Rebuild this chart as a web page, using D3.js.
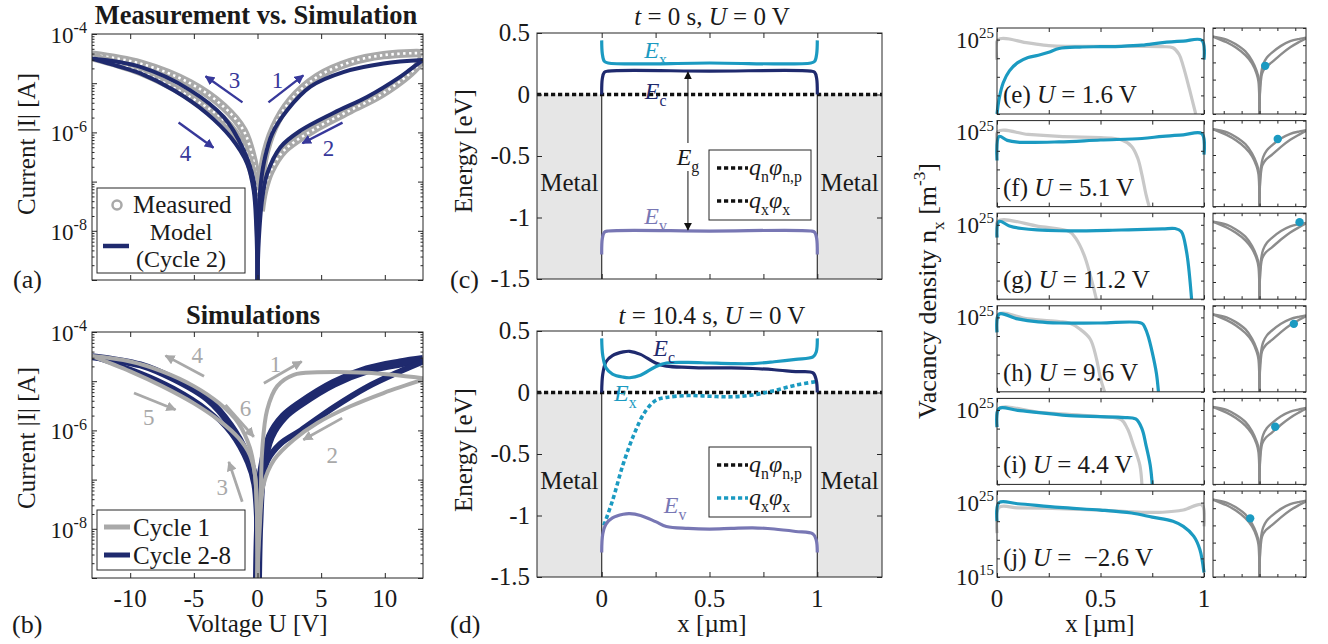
<!DOCTYPE html>
<html>
<head>
<meta charset="utf-8">
<script src="https://cdn.jsdelivr.net/npm/d3@7"></script>
<style>
  body { margin: 0; background: #fff; }
  text { font-family: "Liberation Serif", "Times New Roman", serif; }
</style>
</head>
<body>
<div id="root"></div>
<script>
// ---------- data ----------
// I-V curves: [voltage U in V, log10 |I| in A]
var voltTicks = [-10, -5, 0, 5, 10];
var currentDecades = [-9, -8, -7, -6, -5, -4];
var currentLabelDecades = [-8, -6, -4];

var measUpRight  = [[0.2,-7.5],[0.5,-6.57],[1.3,-5.9],[2.6,-5.35],[4.7,-4.87],[7.3,-4.57],[9.9,-4.43],[12.8,-4.39],[13,-4.4]];
var measLowRight = [[13,-4.45],[12.5,-4.67],[9.9,-5.2],[7.3,-5.55],[4.7,-5.9],[2.07,-6.37],[1.0,-6.8],[0.5,-7.2],[0.25,-7.6]];
var measUpLeft   = [[0.1,-7.3],[-0.3,-6.6],[-1.1,-5.96],[-2.65,-5.48],[-5.3,-5.0],[-9.2,-4.6],[-13,-4.42]];
var measLowLeft  = [[-13,-4.47],[-9.2,-4.77],[-5.3,-5.28],[-2.65,-5.75],[-1.1,-6.3],[-0.3,-6.9],[0.15,-7.5]];

var modelUpRight  = [[0,-9],[0.1,-7.6],[0.3,-6.95],[0.6,-6.5],[1.15,-6.03],[2.33,-5.55],[4.16,-5.07],[6.8,-4.77],[9.9,-4.6],[13,-4.53]];
var modelLowRight = [[13,-4.53],[12,-4.72],[11.2,-4.87],[8.6,-5.28],[6,-5.6],[3.4,-5.96],[1.8,-6.3],[0.76,-6.84],[0.35,-7.39],[0.1,-8.2],[0,-9]];
var modelUpLeft   = [[0,-9],[-0.1,-7.6],[-0.3,-6.98],[-1.07,-6.37],[-2.65,-5.69],[-5.3,-5.14],[-9.2,-4.67],[-13,-4.5]];
var modelLowLeft  = [[-13,-4.5],[-11,-4.65],[-9.2,-4.8],[-6.6,-5.14],[-3.95,-5.62],[-2.1,-6.1],[-0.8,-6.64],[-0.3,-7.18],[-0.1,-7.9],[0,-9]];

var cyc1Sweep1  = [[0,-9],[0.1,-8.0],[0.24,-7.42],[0.37,-6.4],[0.76,-5.58],[1.55,-5.1],[2.85,-4.87],[4.7,-4.82],[8.6,-4.83],[13,-4.94]];
var cyc1Sweep2  = [[13,-4.97],[9.9,-5.24],[7.3,-5.51],[4.7,-5.85],[2.85,-6.19],[1.3,-6.6],[0.5,-7.08],[0.15,-8.1],[0,-9]];
var cyc1Sweep34 = [[0,-9],[-0.05,-7.6],[-0.2,-6.9],[-0.6,-6.35],[-1.5,-5.85],[-3,-5.45],[-5,-5.1],[-7.5,-4.8],[-10,-4.6],[-13,-4.49]];
var cyc1Sweep56 = [[-13,-4.49],[-10,-4.8],[-7.5,-5.1],[-5,-5.45],[-3,-5.8],[-1.5,-6.15],[-0.6,-6.5],[-0.2,-6.9],[-0.05,-7.6],[0,-9]];

var cyc2UpRight  = [[0,-9],[0.1,-7.9],[0.37,-6.8],[1.02,-6.12],[2.07,-5.72],[3.4,-5.45],[6,-5.04],[8.6,-4.77],[11.2,-4.63],[13,-4.56]];
var cyc2LowRight = [[13,-4.6],[11.2,-4.8],[8.6,-5.12],[6,-5.53],[3.4,-6.0],[1.8,-6.27],[0.76,-6.62],[0.37,-7.1],[0.1,-7.8],[0,-9]];
var cyc2UpLeft   = [[0,-9],[-0.16,-7.0],[-0.8,-6.5],[-2.1,-5.9],[-3.95,-5.36],[-6.6,-4.95],[-9.2,-4.67],[-13,-4.5]];
var cyc2LowLeft  = [[-13,-4.5],[-9.2,-4.83],[-6.6,-5.14],[-3.95,-5.58],[-2.1,-6.06],[-0.8,-6.66],[-0.3,-7.1],[0,-9]];

// sweep arrows: from [U, log I], to [U, log I], label position
var arrowsA = [
  { from: [0.86,-5.39], to: [3.6,-4.84], label: '1', at: [1.57,-4.94] },
  { from: [6.68,-5.8], to: [3.53,-6.22], label: '2', at: [5.58,-6.31] },
  { from: [-1.18,-5.39], to: [-4.08,-4.86], label: '3', at: [-1.8,-4.94] },
  { from: [-6.2,-5.8], to: [-3.46,-6.31], label: '4', at: [-5.65,-6.41] }
];
var arrowsB = [
  { from: [0.5,-5.04], to: [3.47,-4.6], label: '1', at: [1.41,-4.66] },
  { from: [6.65,-5.75], to: [3.6,-6.19], label: '2', at: [5.87,-6.5] },
  { from: [-1.2,-7.45], to: [-2.25,-6.64], label: '3', at: [-2.77,-7.15] },
  { from: [-4.2,-4.9], to: [-7.23,-4.48], label: '4', at: [-4.74,-4.46] },
  { from: [-9.7,-5.24], to: [-6.44,-5.58], label: '5', at: [-8.54,-5.72] },
  { from: [-2.51,-5.48], to: [-0.29,-6.13], label: '6', at: [-0.94,-5.55] }
];

// band diagrams: [x in um, energy in eV]
var posTicks = [0, 0.25, 0.5, 0.75, 1];
var posLabels = [0, 0.5, 1];
var energyTicks = [0.5, 0, -0.5, -1, -1.5];
var metalRegions = [[-0.3, 0], [1, 1.3]];
var zeroLevel = [[-0.3, 0], [1.3, 0]];

var exC = [[0,0.44],[0.003,0.33],[0.012,0.27],[0.03,0.256],[0.5,0.256],[0.97,0.256],[0.988,0.27],[0.997,0.33],[1,0.44]];
var ecC = [[0,0],[0.003,0.13],[0.012,0.18],[0.03,0.19],[0.5,0.19],[0.97,0.19],[0.988,0.18],[0.997,0.13],[1,0]];
var evC = [[0,-1.3],[0.003,-1.17],[0.012,-1.12],[0.03,-1.11],[0.5,-1.11],[0.97,-1.11],[0.988,-1.12],[0.997,-1.17],[1,-1.3]];
var gapArrow = { x: 0.4, top: 0.19, bottom: -1.11 };

var xD = [0,0.005,0.02,0.05,0.1,0.13,0.18,0.25,0.3,0.4,0.5,0.6,0.7,0.8,0.9,0.98,0.995,1];
var ecDVals = [0,0.15,0.25,0.3,0.33,0.335,0.31,0.24,0.215,0.205,0.2,0.2,0.195,0.185,0.17,0.16,0.1,0];
var exDVals = [0.44,0.3,0.2,0.15,0.125,0.12,0.14,0.21,0.24,0.245,0.24,0.235,0.235,0.25,0.27,0.29,0.33,0.44];
var evDVals = [-1.3,-1.15,-1.07,-1.02,-0.99,-0.985,-1.0,-1.05,-1.09,-1.105,-1.11,-1.105,-1.1,-1.11,-1.13,-1.15,-1.2,-1.3];
var phiXD = [[0.01,-1.08],[0.05,-0.88],[0.1,-0.58],[0.15,-0.34],[0.2,-0.16],[0.25,-0.065],[0.3,-0.04],[0.4,-0.025],[0.5,-0.03],[0.6,-0.035],[0.7,-0.02],[0.8,0.015],[0.9,0.06],[1,0.09]];

// vacancy density profiles: [x in um, log10 n_x in m^-3]
var vacLabels = ['(e)', '(f)', '(g)', '(h)', '(i)', '(j)'];
var vacVoltages = ['1.6', '5.1', '11.2', '9.6', '4.4', '\u00a0\u22122.6'];
var vacGray = [
  [[0,22.3],[0.005,25.0],[0.15,24.55],[0.25,24.2],[0.35,24.1],[0.5,24.1],[0.7,24.1],[0.8,24.05],[0.85,23.9],[0.88,23.0],[0.9,21.4],[0.93,18.3],[0.96,15]],
  [[0,22.0],[0.005,25.1],[0.15,24.7],[0.3,24.43],[0.55,24.2],[0.6,23.97],[0.65,23.1],[0.68,21.5],[0.7,19.3],[0.72,16.6],[0.735,15]],
  [[0,23.3],[0.005,25.5],[0.2,24.8],[0.35,24.1],[0.38,23.2],[0.42,21.0],[0.45,18.3],[0.48,15]],
  [[0,23.0],[0.01,25.45],[0.15,24.8],[0.3,24.45],[0.35,24.25],[0.4,23.45],[0.45,22.1],[0.48,19.5],[0.5,16.8],[0.52,15]],
  [[0,22.7],[0.01,25.2],[0.2,24.7],[0.5,24.1],[0.6,23.7],[0.63,22.5],[0.66,20.2],[0.69,17.6],[0.7,15]],
  [[0,20.9],[0.01,24.36],[0.1,24.3],[0.3,24.2],[0.5,24.0],[0.7,23.7],[0.8,23.7],[0.9,24.0],[0.99,24.7],[1,21.8]]
];
var vacCyan = [
  [[0,15],[0.01,17],[0.03,19.2],[0.06,20.8],[0.1,21.9],[0.15,22.6],[0.2,22.9],[0.25,23.3],[0.3,23.8],[0.4,24.0],[0.5,24.05],[0.6,24.1],[0.7,24.25],[0.8,24.6],[0.9,24.8],[0.99,24.9],[1,22.3]],
  [[0,21.2],[0.01,24.43],[0.05,23.9],[0.1,23.67],[0.3,23.7],[0.5,23.95],[0.7,24.15],[0.8,24.45],[0.9,24.65],[0.99,24.8],[1,22.0]],
  [[0,23.3],[0.01,25.45],[0.06,24.85],[0.12,24.5],[0.3,24.2],[0.6,24.3],[0.8,24.45],[0.86,24.5],[0.89,24.1],[0.915,21.5],[0.94,15]],
  [[0,23.0],[0.01,25.45],[0.1,24.8],[0.2,24.4],[0.3,24.25],[0.5,24.25],[0.7,24.2],[0.715,23.6],[0.73,22.5],[0.75,20.3],[0.77,17.5],[0.78,15]],
  [[0,22.7],[0.01,25.2],[0.1,24.95],[0.35,24.25],[0.6,24.0],[0.67,23.8],[0.7,22.5],[0.72,20.25],[0.74,17.6],[0.75,15]],
  [[0,22.5],[0.01,25.0],[0.1,24.85],[0.3,24.35],[0.5,24.0],[0.65,23.6],[0.75,23.05],[0.85,22.5],[0.9,21.8],[0.95,20.5],[0.98,18.7],[1,15.6]]
];
var vacTicks = [15, 17.5, 20, 22.5, 25];
// operating point in inset: [U, log10 |I|]
var insetDots = [[1.6,-6.2],[5.1,-5.07],[11.2,-4.52],[9.6,-5.05],[4.4,-5.65],[-2.6,-5.59]];

// ---------- styles ----------
var C_NAVY = '#1f2a6e', C_CYAN = '#1b9ac1', C_LAV = '#7877b4', C_GRAY = '#a9a9a9',
    C_ARROW = '#37389a', C_AX = '#262626', C_TXT = '#1a1a1a';
var FS_TICK = 25, FS_LAB = 25;

var svg = d3.select('#root').append('svg').attr('width', 1328).attr('height', 644);
var defs = svg.append('defs');

function marker(id, color, size, units) {
  defs.append('marker').attr('id', id)
    .attr('viewBox', '0 0 10 10').attr('refX', 9).attr('refY', 5)
    .attr('markerWidth', size).attr('markerHeight', size)
    .attr('markerUnits', units || 'strokeWidth')
    .attr('orient', 'auto-start-reverse')
    .append('path').attr('d', 'M0,0L10,5L0,10z').attr('fill', color);
}
marker('arrNavy', C_ARROW, 4);
marker('arrGray', C_GRAY, 3.6);
marker('arrBlack', '#111', 8, 'userSpaceOnUse');

function rich(g, x, y, parts, size, opts) {
  opts = opts || {};
  var small = opts.small || 0.66;
  var t = g.append('text').attr('x', x).attr('y', y).attr('font-size', size)
    .attr('text-anchor', opts.anchor || 'start').attr('fill', opts.color || C_TXT);
  if (opts.rotate) t.attr('transform', 'rotate(-90,' + x + ',' + y + ')');
  if (opts.bold) t.attr('font-weight', 'bold');
  var shift = 0;
  parts.forEach(function (p) {
    if (typeof p === 'string') p = { t: p };
    var target = p.sub ? size * 0.3 : p.sup ? -size * 0.42 : 0;
    var s = t.append('tspan').text(p.t).attr('dy', target - shift);
    shift = target;
    if (p.sub || p.sup) s.attr('font-size', size * small);
    if (p.i) s.attr('font-style', 'italic');
  });
  return t;
}

function plain(g, x, y, str, size, anchor, color) {
  return g.append('text').attr('x', x).attr('y', y).attr('font-size', size)
    .attr('text-anchor', anchor || 'start').attr('fill', color || C_TXT).text(str);
}

function clipRect(id, x, y, w, h) {
  defs.append('clipPath').attr('id', id).append('rect')
    .attr('x', x).attr('y', y).attr('width', w).attr('height', h);
  return 'url(#' + id + ')';
}

function frame(g, x, y, w, h) {
  g.append('rect').attr('x', x).attr('y', y).attr('width', w).attr('height', h)
    .attr('fill', 'none').attr('stroke', C_AX).attr('stroke-width', 1);
}

function ticks(g, scale, vals, orient, pos, len) {
  var ax = orient === 'bottom' ? d3.axisBottom(scale) : orient === 'top' ? d3.axisTop(scale)
         : orient === 'left' ? d3.axisLeft(scale) : d3.axisRight(scale);
  ax.tickValues(vals).tickSizeInner(-len).tickSizeOuter(0).tickFormat('');
  var a = g.append('g')
    .attr('transform', (orient === 'bottom' || orient === 'top') ? 'translate(0,' + pos + ')' : 'translate(' + pos + ',0)')
    .call(ax);
  a.select('.domain').remove();
  a.selectAll('line').attr('stroke', C_AX).attr('stroke-width', 1);
}

function curve(g, pts, xs, ys, color, width, dash) {
  var line = d3.line().x(function (d) { return xs(d[0]); }).y(function (d) { return ys(d[1]); })
    .curve(d3.curveCatmullRom.alpha(0.5));
  var p = g.append('path').datum(pts).attr('d', line).attr('fill', 'none')
    .attr('stroke', color).attr('stroke-width', width).attr('stroke-linejoin', 'round');
  if (dash) p.attr('stroke-dasharray', dash);
  return p;
}

function minorLog(decades) {
  var v = [];
  decades.slice(0, -1).forEach(function (k) {
    for (var m = 2; m < 10; m++) v.push(m * Math.pow(10, k));
  });
  return v;
}

// ---------- I-V panels (a), (b) ----------
var ivLeft = 92, ivRight = 423;
var xU = d3.scaleLinear().domain([-13, 13]).range([ivLeft, ivRight]);

function ivPanel(top, bottom, id) {
  var g = svg.append('g');
  var yI = d3.scaleLog().domain([1e-9, 1e-4]).range([bottom, top]);
  var yL = function (v) { return yI(Math.pow(10, v)); };
  var plot = g.append('g').attr('clip-path', clipRect(id, ivLeft, top, ivRight - ivLeft, bottom - top));
  var majors = currentDecades.map(function (k) { return Math.pow(10, k); });
  return { g: g, plot: plot, yI: yI, yL: yL, top: top, bottom: bottom, majors: majors };
}

function ivAxes(p, withXLabels, labelY) {
  frame(p.g, ivLeft, p.top, ivRight - ivLeft, p.bottom - p.top);
  ticks(p.g, xU, voltTicks, 'bottom', p.bottom, 5);
  ticks(p.g, xU, voltTicks, 'top', p.top, 5);
  ticks(p.g, p.yI, p.majors, 'left', ivLeft, 5);
  ticks(p.g, p.yI, p.majors, 'right', ivRight, 5);
  ticks(p.g, p.yI, minorLog(currentDecades), 'left', ivLeft, 2.5);
  ticks(p.g, p.yI, minorLog(currentDecades), 'right', ivRight, 2.5);
  currentLabelDecades.forEach(function (k) {
    rich(p.g, 87, p.yL(k) + 9, ['10', { t: '-' + Math.abs(k), sup: true }], 23, { anchor: 'end', small: 0.7 });
  });
  if (withXLabels) {
    voltTicks.forEach(function (v) { plain(p.g, xU(v), 607, v, FS_TICK, 'middle'); });
  }
  rich(p.g, 35, labelY, ['Current |I| [A]'], FS_LAB, { anchor: 'middle', rotate: true });
}

function drawArrows(p, list, color, mk, width) {
  list.forEach(function (a) {
    p.g.append('line')
      .attr('x1', xU(a.from[0])).attr('y1', p.yL(a.from[1]))
      .attr('x2', xU(a.to[0])).attr('y2', p.yL(a.to[1]))
      .attr('stroke', color).attr('stroke-width', width).attr('marker-end', 'url(#' + mk + ')');
    plain(p.g, xU(a.at[0]), p.yL(a.at[1]) + 8, a.label, 23, 'middle', color);
  });
}

// (a)
var pa = ivPanel(34, 280, 'clipA');
[measUpRight, measLowRight, measUpLeft, measLowLeft].forEach(function (b) {
  curve(pa.plot, b, xU, pa.yL, C_GRAY, 8.5);
  curve(pa.plot, b, xU, pa.yL, '#ffffff', 2.6, '2.4,3.4');
});
[modelUpRight, modelLowRight, modelUpLeft, modelLowLeft].forEach(function (b) {
  curve(pa.plot, b, xU, pa.yL, C_NAVY, 4);
});
drawArrows(pa, arrowsA, C_ARROW, 'arrNavy', 2.4);
ivAxes(pa, false, 144);
plain(pa.g, 256, 24, 'Measurement vs. Simulation', 26.5, 'middle').attr('font-weight', 'bold');
plain(pa.g, 13, 288, '(a)', 26);
// legend (a)
var la = pa.g.append('g');
la.append('rect').attr('x', 97).attr('y', 188).attr('width', 148).attr('height', 85)
  .attr('fill', '#fff').attr('stroke', C_AX);
la.append('circle').attr('cx', 117).attr('cy', 205).attr('r', 4.5)
  .attr('fill', 'none').attr('stroke', C_GRAY).attr('stroke-width', 2.5);
plain(la, 133, 213, 'Measured', 25);
la.append('line').attr('x1', 103).attr('x2', 129).attr('y1', 246).attr('y2', 246)
  .attr('stroke', C_NAVY).attr('stroke-width', 4.5);
plain(la, 181, 240, 'Model', 24, 'middle');
plain(la, 181, 267, '(Cycle 2)', 24, 'middle');

// (b)
var pb = ivPanel(332, 578, 'clipB');
[[cyc2UpRight, 9], [cyc2LowRight, 6], [cyc2UpLeft, 7], [cyc2LowLeft, 4.5]].forEach(function (b) {
  curve(pb.plot, b[0], xU, pb.yL, C_NAVY, b[1]);
});
[cyc1Sweep1, cyc1Sweep2, cyc1Sweep34, cyc1Sweep56].forEach(function (b) {
  curve(pb.plot, b, xU, pb.yL, C_GRAY, 4);
});
drawArrows(pb, arrowsB, C_GRAY, 'arrGray', 2.8);
ivAxes(pb, true, 438);
plain(pb.g, 253, 324, 'Simulations', 26.5, 'middle').attr('font-weight', 'bold');
plain(pb.g, 257, 632, 'Voltage U [V]', FS_LAB, 'middle');
plain(pb.g, 12, 633, '(b)', 26);
var lb = pb.g.append('g');
lb.append('rect').attr('x', 97).attr('y', 510).attr('width', 148).attr('height', 60)
  .attr('fill', '#fff').attr('stroke', C_AX);
lb.append('line').attr('x1', 104).attr('x2', 130).attr('y1', 527).attr('y2', 527).attr('stroke', C_GRAY).attr('stroke-width', 5);
plain(lb, 133, 536, 'Cycle 1', 25);
lb.append('line').attr('x1', 104).attr('x2', 130).attr('y1', 555).attr('y2', 555).attr('stroke', C_NAVY).attr('stroke-width', 5);
plain(lb, 133, 564, 'Cycle 2-8', 25);

// ---------- band diagrams (c), (d) ----------
var bdLeft = 537, bdRight = 882;
var xP = d3.scaleLinear().domain([-0.3, 1.3]).range([bdLeft, bdRight]);
var DASH = '4.2,2.8';

function bandPanel(top, bottom) {
  var g = svg.append('g');
  var yE = d3.scaleLinear().domain([-1.5, 0.5]).range([bottom, top]);
  metalRegions.forEach(function (r) {
    g.append('rect').attr('x', xP(r[0])).attr('y', yE(0))
      .attr('width', xP(r[1]) - xP(r[0])).attr('height', yE(-1.5) - yE(0)).attr('fill', '#e6e6e6');
  });
  [0, 1].forEach(function (x) {
    g.append('line').attr('x1', xP(x)).attr('x2', xP(x)).attr('y1', yE(0)).attr('y2', yE(-1.5))
      .attr('stroke', '#333').attr('stroke-width', 1.2);
  });
  return { g: g, yE: yE, top: top, bottom: bottom };
}

function bandAxes(p, withXLabels, labelY) {
  frame(p.g, bdLeft, p.top, bdRight - bdLeft, p.bottom - p.top);
  ticks(p.g, xP, posTicks, 'bottom', p.bottom, 5);
  ticks(p.g, xP, posTicks, 'top', p.top, 5);
  ticks(p.g, p.yE, energyTicks, 'left', bdLeft, 5);
  ticks(p.g, p.yE, energyTicks, 'right', bdRight, 5);
  energyTicks.forEach(function (v) { plain(p.g, 530, p.yE(v) + 8, v, FS_TICK, 'end'); });
  if (withXLabels) {
    posLabels.forEach(function (v) { plain(p.g, xP(v), 607, v, FS_TICK, 'middle'); });
  }
  rich(p.g, 472, labelY, ['Energy [eV]'], FS_LAB, { anchor: 'middle', rotate: true });
  plain(p.g, xP(-0.15), p.yE(-0.5) + 35, 'Metal', 25, 'middle');
  plain(p.g, xP(1.15), p.yE(-0.5) + 35, 'Metal', 25, 'middle');
}

function bandLegend(g, y0, secondColor) {
  g.append('rect').attr('x', 709).attr('y', y0).attr('width', 102).attr('height', 70)
    .attr('fill', '#fff').attr('stroke', C_AX);
  g.append('line').attr('x1', 717).attr('x2', 748).attr('y1', y0 + 18).attr('y2', y0 + 18)
    .attr('stroke', '#111').attr('stroke-width', 3.6).attr('stroke-dasharray', DASH);
  rich(g, 749, y0 + 25, [{ t: 'q', i: 1 }, { t: 'n', sub: 1 }, { t: '\u03c6', i: 1 }, { t: 'n,p', sub: 1 }], 24);
  g.append('line').attr('x1', 717).attr('x2', 748).attr('y1', y0 + 51).attr('y2', y0 + 51)
    .attr('stroke', secondColor).attr('stroke-width', 3.6).attr('stroke-dasharray', DASH);
  rich(g, 749, y0 + 58, [{ t: 'q', i: 1 }, { t: 'x', sub: 1 }, { t: '\u03c6', i: 1 }, { t: 'x', sub: 1 }], 24);
}

function eLabel(g, x, y, sub, color) {
  rich(g, x, y, [{ t: 'E', i: 1 }, { t: sub, sub: 1 }], 24, { anchor: 'middle', color: color });
}

// (c)
var pc = bandPanel(33, 279);
curve(pc.g, zeroLevel, xP, pc.yE, '#111', 3.6, DASH);
curve(pc.g, exC, xP, pc.yE, C_CYAN, 3.2);
curve(pc.g, ecC, xP, pc.yE, C_NAVY, 3.2);
curve(pc.g, evC, xP, pc.yE, C_LAV, 3.2);
pc.g.append('line').attr('x1', xP(gapArrow.x)).attr('x2', xP(gapArrow.x))
  .attr('y1', pc.yE(gapArrow.top) + 1).attr('y2', pc.yE(gapArrow.bottom) - 1)
  .attr('stroke', '#111').attr('stroke-width', 1)
  .attr('marker-start', 'url(#arrBlack)').attr('marker-end', 'url(#arrBlack)');
pc.g.append('rect').attr('x', xP(gapArrow.x) - 14).attr('y', 143).attr('width', 30).attr('height', 28).attr('fill', '#fff');
eLabel(pc.g, xP(gapArrow.x), 165, 'g', C_TXT);
eLabel(pc.g, xP(0.25), 58, 'x', C_CYAN);
eLabel(pc.g, xP(0.25), 99, 'c', C_NAVY);
eLabel(pc.g, xP(0.25), 224, 'v', C_LAV);
bandLegend(pc.g, 150, '#111');
bandAxes(pc, false, 151);
rich(pc.g, 712, 25, [{ t: 't', i: 1 }, ' = 0 s, ', { t: 'U', i: 1 }, ' = 0 V'], 25, { anchor: 'middle' });
plain(pc.g, 450, 288, '(c)', 26);

// (d)
var pd = bandPanel(331, 577);
var zip = function (vals) { return xD.map(function (x, i) { return [x, vals[i]]; }); };
curve(pd.g, zeroLevel, xP, pd.yE, '#111', 3.6, DASH);
curve(pd.g, phiXD, xP, pd.yE, C_CYAN, 3.6, DASH);
curve(pd.g, zip(ecDVals), xP, pd.yE, C_NAVY, 3.2);
curve(pd.g, zip(exDVals), xP, pd.yE, C_CYAN, 3.2);
curve(pd.g, zip(evDVals), xP, pd.yE, C_LAV, 3.2);
eLabel(pd.g, xP(0.29), 356, 'c', C_NAVY);
eLabel(pd.g, xP(0.11), 401, 'x', C_CYAN);
eLabel(pd.g, xP(0.34), 513, 'v', C_LAV);
bandLegend(pd.g, 447, C_CYAN);
bandAxes(pd, true, 450);
rich(pd.g, 712, 324, [{ t: 't', i: 1 }, ' = 10.4 s, ', { t: 'U', i: 1 }, ' = 0 V'], 25, { anchor: 'middle' });
plain(pd.g, 712, 632, 'x [\u00b5m]', FS_LAB, 'middle');
plain(pd.g, 450, 633, '(d)', 26);

// ---------- vacancy density panels (e)-(j) with I-V insets ----------
var vLeft = 997, vRight = 1204, inLeft = 1213, inRight = 1306, rowH = 86, rowStep = 92.6;
var xV = d3.scaleLinear().domain([0, 1]).range([vLeft, vRight]);
var xIn = d3.scaleLinear().domain([-13, 13]).range([inLeft, inRight]);
var gv = svg.append('g');

vacGray.forEach(function (gray, i) {
  var top = 28 + i * rowStep, bottom = top + rowH;
  var yN = d3.scaleLog().domain([1e15, Math.pow(10, 26.56)]).range([bottom, top]);
  var yNL = function (v) { return yN(Math.pow(10, v)); };
  var plot = gv.append('g').attr('clip-path', clipRect('clipV' + i, vLeft - 2, top, vRight - vLeft + 4, rowH));
  curve(plot, gray, xV, yNL, '#c8c8c8', 3.2);
  curve(plot, vacCyan[i], xV, yNL, C_CYAN, 3.2);
  frame(gv, vLeft, top, vRight - vLeft, rowH);
  ticks(gv, xV, posTicks, 'bottom', bottom, 4);
  ticks(gv, xV, posTicks, 'top', top, 4);
  var vt = vacTicks.map(function (k) { return Math.pow(10, k); });
  ticks(gv, yN, vt, 'left', vLeft, 3);
  ticks(gv, yN, vt, 'right', vRight, 3);
  rich(gv, 994, yNL(25) + 8, ['10', { t: '25', sup: true }], 23, { anchor: 'end', small: 0.65 });
  if (i === 5) rich(gv, 994, yNL(15) + 8, ['10', { t: '15', sup: true }], 23, { anchor: 'end', small: 0.65 });
  rich(gv, 1003, top + 75, [vacLabels[i] + ' ', { t: 'U', i: 1 }, ' = ' + vacVoltages[i] + ' V'], 25);

  // inset: I-V loop of cycle 2 with current operating point
  var yIn = d3.scaleLog().domain([1e-9, 1e-4]).range([bottom, top]);
  var yInL = function (v) { return yIn(Math.pow(10, v)); };
  var ip = gv.append('g').attr('clip-path', clipRect('clipI' + i, inLeft, top, inRight - inLeft, rowH));
  [cyc2UpRight, cyc2LowRight, cyc2UpLeft, cyc2LowLeft].forEach(function (b) {
    curve(ip, b, xIn, yInL, '#8c8c8c', 2.4);
  });
  ip.append('circle').attr('cx', xIn(insetDots[i][0])).attr('cy', yInL(insetDots[i][1]))
    .attr('r', 4.2).attr('fill', C_CYAN);
  frame(gv, inLeft, top, inRight - inLeft, rowH);
  ticks(gv, xIn, voltTicks, 'bottom', bottom, 3);
  ticks(gv, xIn, voltTicks, 'top', top, 3);
  var it = currentDecades.map(function (k) { return Math.pow(10, k); });
  ticks(gv, yIn, it, 'left', inLeft, 3);
  ticks(gv, yIn, it, 'right', inRight, 3);

  if (i === 5) {
    posLabels.forEach(function (v) { plain(gv, xV(v), 607, v, FS_TICK, 'middle'); });
  }
});
plain(gv, 1100, 632, 'x [\u00b5m]', FS_LAB, 'middle');
rich(gv, 936, 291, ['Vacancy density n', { t: 'x', sub: 1 }, ' [m', { t: '-3', sup: 1 }, ']'], 26, { anchor: 'middle', rotate: true });
</script>
</body>
</html>
